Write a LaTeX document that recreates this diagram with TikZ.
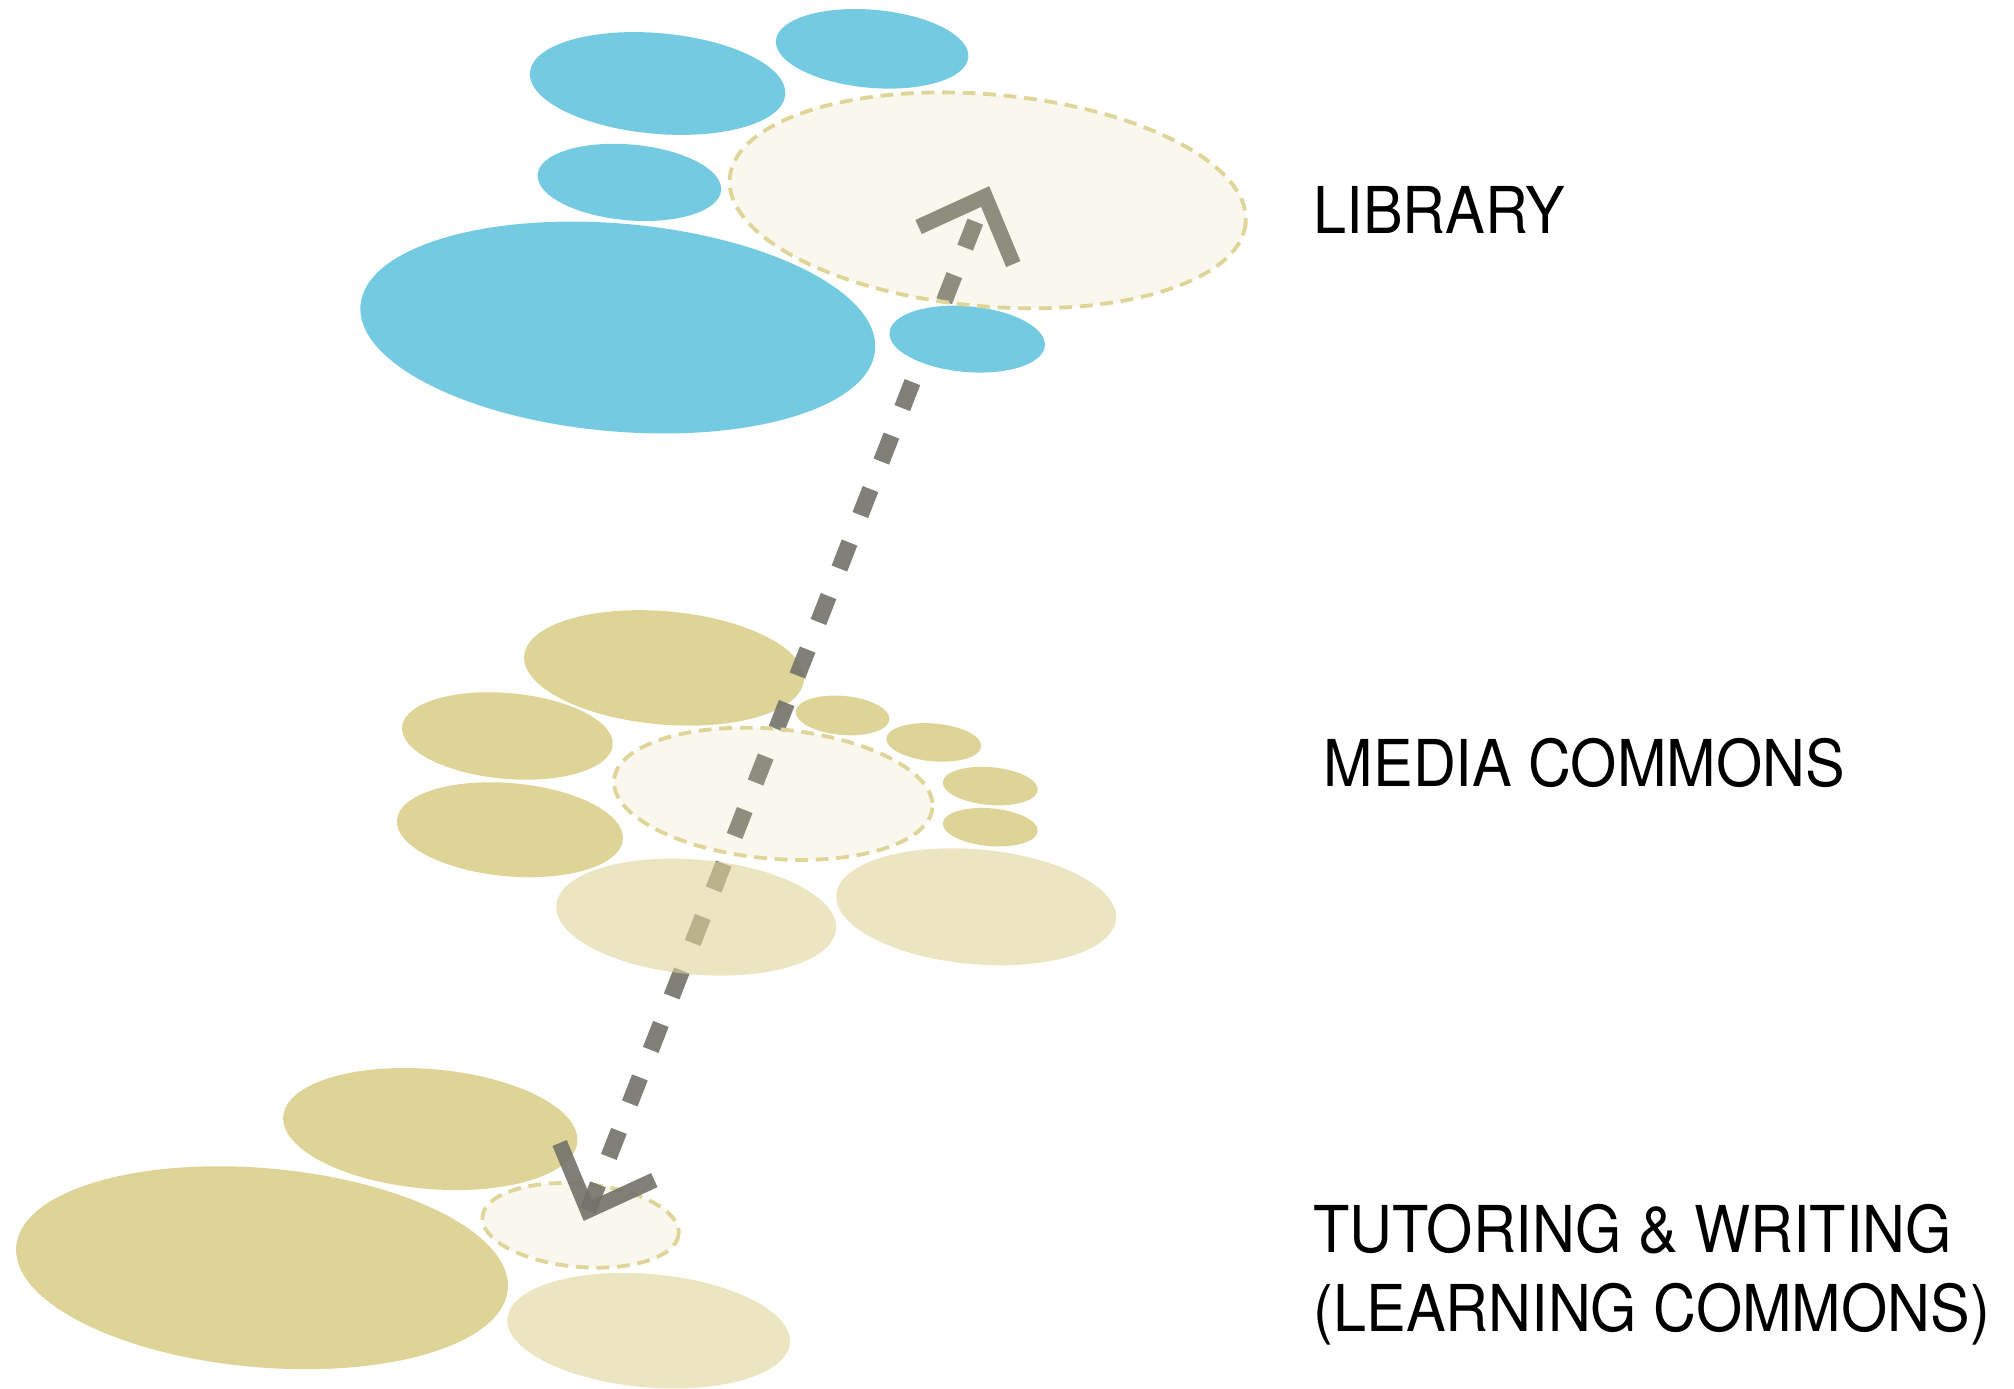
\documentclass[tikz,border=0pt]{standalone}
\usepackage{xcolor}
\usepackage{fontspec}
\newfontfamily\floorfont[FakeStretch=0.92]{TeX Gyre Heros}
\usepackage{tikz}

\definecolor{libblue}{RGB}{116,203,225}
\definecolor{khaki}{RGB}{223,212,152}
\definecolor{khakiline}{RGB}{224,213,153}
\definecolor{pathgray}{RGB}{114,114,106}

\tikzset{
  blob/.style={fill=#1, draw=none},
  paleblob/.style={fill=khaki, fill opacity=0.6, draw=none},
  spot/.style={fill=khaki, fill opacity=0.16, draw=khakiline, line width=0.03cm,
    dash pattern=on 0.1cm off 0.06cm},
  route/.style={draw=pathgray, draw opacity=0.9, line width=0.13cm,
    dash pattern=on 0.217cm off 0.23cm, dash phase=0.237cm},
  head/.style={draw=pathgray, draw opacity=0.9, line width=0.12cm, line join=miter},
  floorname/.style={anchor=base west, inner sep=0pt,
    font=\floorfont\fontsize{14.3pt}{17.6pt}\selectfont}
}

\begin{document}
\begin{tikzpicture}[x=0.01cm, y=-0.01cm]
      \useasboundingbox (0,0) rectangle (1568,1081);

      % library floor
      \fill[blob=libblue, rotate around={-5:(512,65)}] (512,65) ellipse (99.8 and 39.2);
      \fill[blob=libblue, rotate around={-5:(679,38)}] (679,38) ellipse (75.2 and 30.4);
      \fill[blob=libblue, rotate around={-5:(490,142)}] (490,142) ellipse (71.7 and 29.5);
      \fill[blob=libblue, rotate around={-5:(481,255)}] (481,255) ellipse (201.1 and 80.9);

      % media commons floor
      \fill[blob=khaki, rotate around={-5:(517,520)}] (517,520) ellipse (109.3 and 44.1);
      \fill[blob=khaki, rotate around={-5:(395,573)}] (395,573) ellipse (82.3 and 33.4);
      \fill[blob=khaki, rotate around={-5:(397,646)}] (397,646) ellipse (88.3 and 36.3);
      \fill[blob=khaki, rotate around={-5:(656,557)}] (656,557) ellipse (36.6 and 15.2);
      \fill[blob=khaki, rotate around={-5:(727,578)}] (727,578) ellipse (37.1 and 14.7);
      \fill[blob=khaki, rotate around={-5:(771,612)}] (771,612) ellipse (37.1 and 14.7);
      \fill[blob=khaki, rotate around={-5:(771,644)}] (771,644) ellipse (37.1 and 14.7);

      % tutoring floor
      \fill[blob=khaki, rotate around={-5:(335,879)}] (335,879) ellipse (114.9 and 46.6);
      \fill[blob=khaki, rotate around={-5:(204,987)}] (204,987) ellipse (192.1 and 77.5);
      \draw[spot, rotate around={-5:(452,954)}] (452,954) ellipse (76.7 and 32.4);

      % the way between the floors
      \coordinate (libtip) at (767,153);
      \coordinate (tutortip) at (457.6,942.5);
      \draw[route] (libtip) -- (tutortip);
      \draw[head] (libtip) ++(155.4:57) -- (libtip) -- ++(67.4:57);
      \draw[head] (tutortip) ++(-112.6:57) -- (tutortip) -- ++(-24.6:57);

      % these lie over the way
      \fill[blob=libblue, rotate around={-5:(753,264)}] (753,264) ellipse (60.7 and 25.6);
      \draw[spot, rotate around={-5:(769,156)}] (769,156) ellipse (201.6 and 82.5);
      \draw[spot, rotate around={-5:(602,618)}] (602,618) ellipse (124.4 and 50.5);
      \fill[paleblob, rotate around={-5:(542,714)}] (542,714) ellipse (109.3 and 44.7);
      \fill[paleblob, rotate around={-5:(760,706)}] (760,706) ellipse (109.3 and 44.7);
      \fill[paleblob, rotate around={-5:(505,1036)}] (505,1036) ellipse (110.4 and 44.1);

      \node[floorname] (library) at (1022,182) {LIBRARY};
      \node[floorname] (media) at (1030,612) {MEDIA COMMONS};
      \node[floorname] (tutor) at (1022,975) {TUTORING \& WRITING};
      \node[floorname] (learning) at ([yshift=-17.6pt]tutor.base west) {(LEARNING COMMONS)};
    \end{tikzpicture}
\end{document}
